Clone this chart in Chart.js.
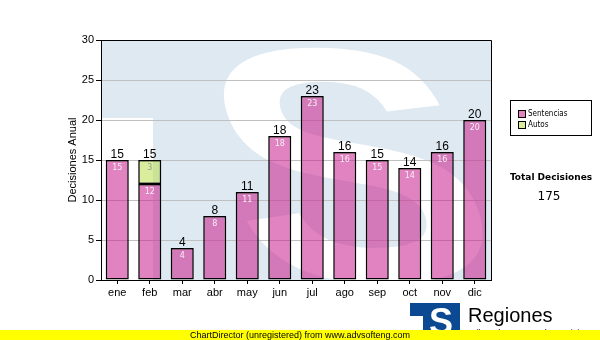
<!DOCTYPE html>
<html>
<head>
<meta charset="utf-8">
<script src="https://cdn.jsdelivr.net/npm/chart.js@4"></script>
<style>
  html, body { margin: 0; padding: 0; background: #fff; }
  #wrap { width: 600px; height: 340px; position: relative; }
</style>
</head>
<body>
<div id="wrap"><canvas id="myChart" width="600" height="340"></canvas></div>
<script>
const meses = ['ene', 'feb', 'mar', 'abr', 'may', 'jun', 'jul', 'ago', 'sep', 'oct', 'nov', 'dic'];
const sentencias = [15, 12, 4, 8, 11, 18, 23, 16, 15, 14, 16, 20];
const autos = [null, 3, null, null, null, null, null, null, null, null, null, null];
const yTicks = [0, 5, 10, 15, 20, 25, 30];

const pink = 'rgba(200,30,140,0.55)';
const green = 'rgba(180,220,60,0.5)';

// watermark behind the plot (light blue T with a white S)
const watermark = {
    id: 'watermark',
    beforeDraw(chart) {
        const c = chart.ctx, a = chart.chartArea;
        c.save();
        c.fillStyle = '#fff';
        c.fillRect(0, 0, chart.width, chart.height);
        c.beginPath();
        c.rect(a.left, a.top, a.right - a.left, a.bottom - a.top);
        c.clip();
        c.fillStyle = '#dfe9f2';
        c.fillRect(a.left, a.top, a.right - a.left, 78);
        c.fillRect(153, a.top, a.right - 153, a.bottom - a.top);
        // big S fitted to a box, leaning back a bit
        c.font = 'bold 300px Arial';
        const m = c.measureText('S');
        const w = m.actualBoundingBoxLeft + m.actualBoundingBoxRight;
        const h = m.actualBoundingBoxAscent + m.actualBoundingBoxDescent;
        const bx = 225, by = 46, bw = 245, bh = 240, k = 0.3;
        c.translate(bx, by);
        c.transform(1, 0, k, 1, -k * bh / 2, 0);
        c.scale(bw / w, bh / h);
        c.fillStyle = '#fff';
        c.textBaseline = 'alphabetic';
        c.fillText('S', m.actualBoundingBoxLeft, m.actualBoundingBoxAscent);
        c.restore();
    }
};

const labels = {
    id: 'labels',
    afterDatasetsDraw(chart) {
        const c = chart.ctx;
        c.save();
        c.textAlign = 'center';
        // inner labels
        chart.data.datasets.forEach((ds, i) => {
            const meta = chart.getDatasetMeta(i);
            meta.data.forEach((bar, j) => {
                const v = ds.data[j];
                if (v == null) return;
                c.font = '8px "DejaVu Sans"';
                c.fillStyle = i === 0 ? '#f6eef6' : '#9a9a9a';
                c.textBaseline = 'top';
                c.fillText(String(v), bar.x, bar.y + 4);
            });
        });
        // totals above the stack
        const y = chart.scales.y;
        const m0 = chart.getDatasetMeta(0);
        meses.forEach((m, j) => {
            const tot = (sentencias[j] || 0) + (autos[j] || 0);
            c.font = '12px Arial';
            c.fillStyle = '#000';
            c.textBaseline = 'alphabetic';
            c.fillText(String(tot), m0.data[j].x, y.getPixelForValue(tot) - 2);
        });
        c.restore();
    },
    afterDraw(chart) {
        const c = chart.ctx, a = chart.chartArea;
        c.save();
        // frame
        c.strokeStyle = '#000';
        c.lineWidth = 1;
        c.beginPath();
        c.moveTo(a.left, a.top + 0.5);
        c.lineTo(a.right + 0.5, a.top + 0.5);
        c.lineTo(a.right + 0.5, a.bottom);
        c.stroke();
        // y title
        c.translate(73, (a.top + a.bottom) / 2);
        c.rotate(-Math.PI / 2);
        c.font = '11px Arial';
        c.fillStyle = '#000';
        c.textAlign = 'center';
        c.textBaseline = 'middle';
        c.fillText('Decisiones Anual', 0, 0);
        c.restore();

        c.save();
        // legend
        c.fillStyle = '#fff';
        c.fillRect(510.5, 100.5, 81, 35);
        c.strokeStyle = '#000';
        c.strokeRect(510.5, 100.5, 81, 35);
        chart.data.datasets.forEach((ds, i) => {
            const yy = 110 + i * 11;
            c.fillStyle = '#fff';
            c.fillRect(518, yy, 8, 8);
            c.fillStyle = ds.backgroundColor;
            c.fillRect(518, yy, 8, 8);
            c.strokeStyle = '#000';
            c.strokeRect(518.5, yy + 0.5, 7, 7);
            c.fillStyle = '#000';
            c.font = '8px "DejaVu Sans Condensed", "DejaVu Sans"';
            c.textAlign = 'left';
            c.textBaseline = 'middle';
            c.fillText(ds.label, 528, yy + 4);
        });
        // total
        const total = sentencias.reduce((s, v) => s + v, 0) + autos.reduce((s, v) => s + (v || 0), 0);
        c.textAlign = 'center';
        c.font = 'bold 9px "DejaVu Sans"';
        c.fillText('Total Decisiones', 551, 178);
        c.font = '12px "DejaVu Sans"';
        c.fillText(String(total), 549, 197);

        // logo at bottom right
        c.fillStyle = '#0b4a93';
        c.fillRect(410, 303, 50, 37);
        c.fillStyle = '#fff';
        c.fillRect(410, 316, 13, 24);
        c.font = 'bold 36px Arial';
        c.textBaseline = 'alphabetic';
        c.fillText('S', 441, 334);
        c.fillStyle = '#000';
        c.textAlign = 'left';
        c.font = '20px Arial';
        c.fillText('Regiones', 468, 322);
        c.font = '9px Arial';
        c.fillText('Tribunal Supremo de Justicia', 468, 336);
        // footer band
        c.fillStyle = '#ffff00';
        c.fillRect(0, 330, 600, 10);
        c.fillStyle = '#000';
        c.textAlign = 'center';
        c.textBaseline = 'middle';
        c.font = '9px Arial';
        c.fillText('ChartDirector (unregistered) from www.advsofteng.com', 300, 335.5);
        c.restore();
    }
};

const data = {
    labels: meses,
    datasets: [{
        label: 'Sentencias',
        data: sentencias,
        backgroundColor: pink,
        borderColor: '#000',
        borderWidth: 1.5,
        borderSkipped: false
    }, {
        label: 'Autos',
        data: autos,
        backgroundColor: green,
        borderColor: '#000',
        borderWidth: 1.5,
        borderSkipped: false
    }]
};

const config = {
    type: 'bar',
    data: data,
    options: {
        responsive: false,
        animation: false,
        devicePixelRatio: 1,
        barPercentage: 0.71,
        categoryPercentage: 1,
        layout: {
            padding: { top: 40, right: 109, left: 0, bottom: 0 }
        },
        plugins: {
            legend: { display: false },
            tooltip: { enabled: false }
        },
        scales: {
            x: {
                stacked: true,
                afterFit: s => { s.height = 60; },
                grid: {
                    offset: false,
                    drawOnChartArea: false,
                    tickLength: 4,
                    tickColor: '#000'
                },
                border: { color: '#000', width: 1 },
                ticks: { color: '#000', font: { family: 'Arial', size: 11 }, padding: 2 }
            },
            y: {
                stacked: true,
                min: 0,
                max: 30,
                afterFit: s => { s.width = 101; },
                afterBuildTicks: s => { s.ticks = yTicks.map(v => ({ value: v })); },
                grid: {
                    color: '#c0c0c0',
                    tickColor: '#000',
                    tickLength: 5
                },
                border: { color: '#000', width: 1 },
                ticks: { color: '#000', font: { family: 'Arial', size: 11 }, padding: 2 }
            }
        }
    },
    plugins: [watermark, labels]
};

const ctx = document.getElementById('myChart');
chart = new Chart(ctx, config);
</script>
</body>
</html>
